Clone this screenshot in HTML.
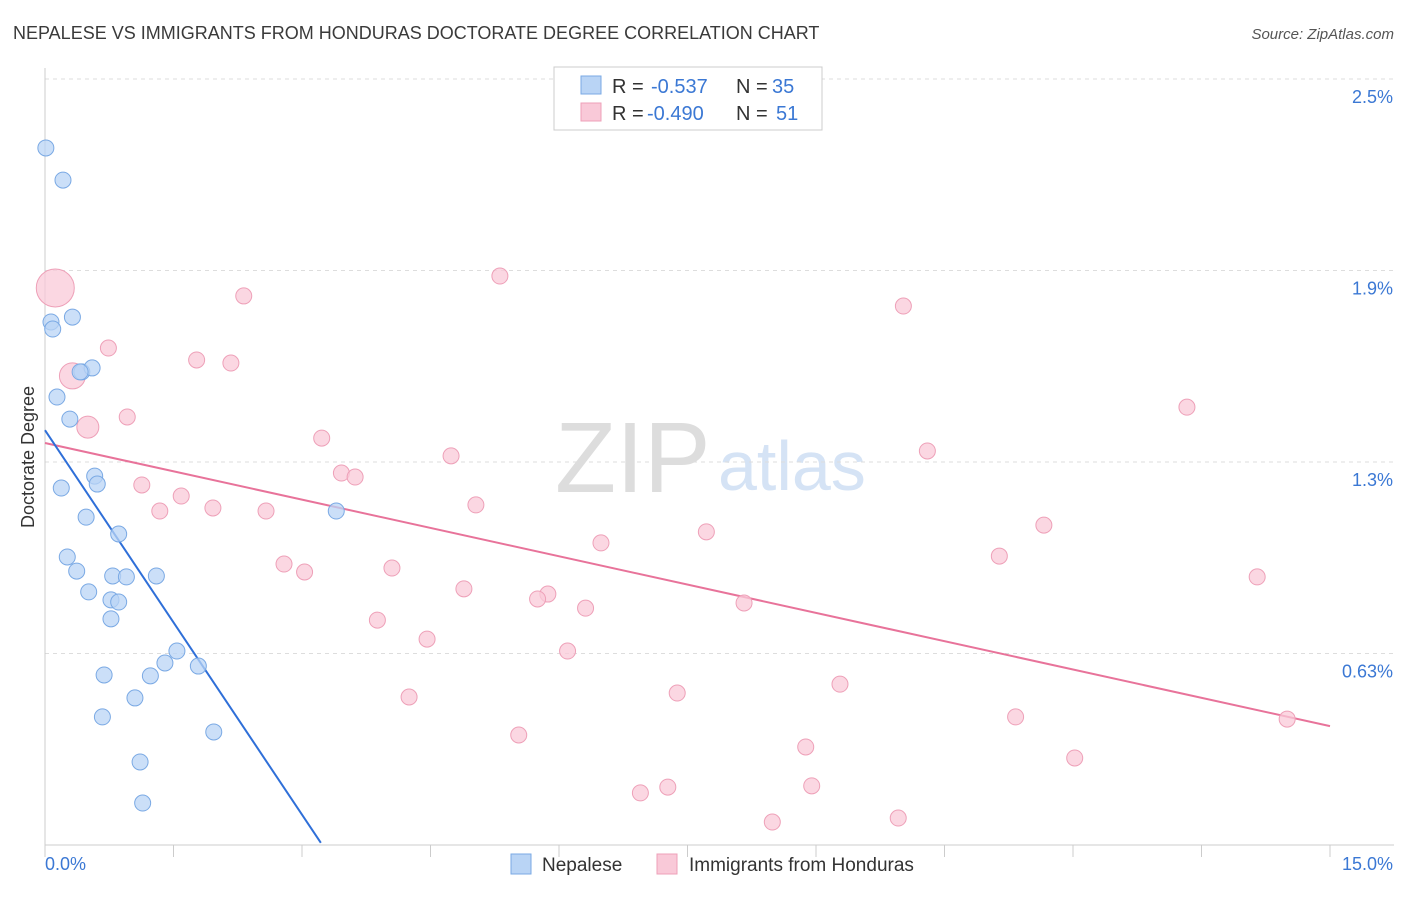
<!DOCTYPE html>
<html><head><meta charset="utf-8"><style>
body{margin:0;background:#fff;font-family:"Liberation Sans",sans-serif;}
svg text{font-family:"Liberation Sans",sans-serif;}
</style></head><body>
<svg id="chart" width="1406" height="892" xmlns="http://www.w3.org/2000/svg">
<text x="13" y="39" font-size="18" fill="#3a3a3a">NEPALESE VS IMMIGRANTS FROM HONDURAS DOCTORATE DEGREE CORRELATION CHART</text>
<text x="1394" y="39" font-size="15" fill="#555" text-anchor="end" font-style="italic">Source: ZipAtlas.com</text>
<g>
<text x="555" y="492" font-size="100" fill="#ddd" font-family="Liberation Serif, serif">ZIP</text>
<text x="718" y="490" font-size="70" fill="#d5e3f5">atlas</text>
</g>
<text transform="translate(34,457) rotate(-90)" font-size="18" fill="#333" text-anchor="middle">Doctorate Degree</text>
<g id="grid"></g><g id="axes"></g><g id="lines"></g><g id="pts"></g>
<g>
<rect x="554" y="67" width="268" height="63" fill="#fff" stroke="#ccc"/>
<rect x="581" y="76" width="20" height="18" fill="#b9d4f5" stroke="#7aa9e4"/>
<rect x="581" y="103" width="20" height="18" fill="#f9c9d8" stroke="#eea0b8"/>
<text x="612" y="93" font-size="20" fill="#333">R =</text>
<text x="651" y="93" font-size="20" fill="#3b78d4">-0.537</text>
<text x="736" y="93" font-size="20" fill="#333">N =</text>
<text x="772" y="93" font-size="20" fill="#3b78d4">35</text>
<text x="612" y="120" font-size="20" fill="#333">R =</text>
<text x="647" y="120" font-size="20" fill="#3b78d4">-0.490</text>
<text x="736" y="120" font-size="20" fill="#333">N =</text>
<text x="776" y="120" font-size="20" fill="#3b78d4">51</text>
</g>
<g>
<rect x="511" y="854" width="20" height="20" fill="#b9d4f5" stroke="#7aa9e4"/>
<text x="542" y="871" font-size="19" fill="#333">Nepalese</text>
<rect x="657" y="854" width="20" height="20" fill="#f9c9d8" stroke="#eea0b8"/>
<text x="689" y="871" font-size="19" fill="#333">Immigrants from Honduras</text>
</g>
</svg>
<script>
const yTicks=[0.625,1.25,1.875,2.5];
const yTickLabels=["0.63%","1.3%","1.9%","2.5%"];
const xTickLabels=["0.0%","15.0%"];
const blueX=[0.01,0.21,0.07,0.09,0.32,0.43,0.55,0.14,0.29,0.58,0.61,0.19,0.48,0.86,0.26,0.37,0.79,0.95,1.30,0.51,0.77,0.86,0.77,1.54,1.40,1.79,0.69,1.23,1.05,0.67,1.97,1.11,1.14,3.40,0.41];
const blueY=[2.275,2.17,1.707,1.684,1.723,1.544,1.557,1.462,1.39,1.204,1.178,1.165,1.070,1.015,0.940,0.894,0.878,0.875,0.878,0.826,0.800,0.793,0.738,0.633,0.594,0.584,0.555,0.552,0.480,0.418,0.369,0.271,0.137,1.090,1.544];
const pinkX=[0.12,0.32,0.50,5.31,2.32,10.02,0.74,1.77,2.17,0.96,13.33,3.23,4.74,10.30,3.46,3.62,1.13,1.59,5.03,1.34,1.96,2.58,11.66,7.72,6.49,11.14,2.79,3.03,4.05,14.15,4.89,5.87,5.75,8.16,6.31,3.88,4.46,6.10,9.28,4.25,7.38,11.33,14.50,5.53,8.88,12.02,7.27,6.95,8.95,8.49,9.96];
const pinkY=[1.818,1.531,1.364,1.857,1.792,1.759,1.622,1.583,1.573,1.397,1.429,1.328,1.270,1.286,1.214,1.201,1.175,1.139,1.110,1.090,1.100,1.090,1.044,1.022,0.986,0.943,0.917,0.891,0.904,0.875,0.836,0.819,0.803,0.790,0.773,0.734,0.672,0.633,0.525,0.483,0.496,0.418,0.411,0.359,0.320,0.284,0.189,0.170,0.193,0.075,0.088];
const pinkR=[19,13,11];
const blueTrend=[1.354,0.007];const blueTrendX=[0,3.22];
const pinkTrend=[1.312,0.388];const pinkTrendX=[0,15];
const X0=45,X1=1330,Y0=845,YT=79;
const sx=v=>X0+v/15*(X1-X0);
const sy=v=>Y0-v/2.5*(Y0-YT);
const NS="http://www.w3.org/2000/svg";
function mk(p,t,a){const e=document.createElementNS(NS,t);for(const k in a)e.setAttribute(k,a[k]);document.getElementById(p).appendChild(e);return e;}
yTicks.forEach((v,i)=>{
 const l=mk('grid','line',{x1:X0,x2:1394,y1:sy(v),y2:sy(v),stroke:'#ddd','stroke-dasharray':'4,4'});
 
 
 const t=mk('grid','text',{x:1393,y:sy(v)+24,'font-size':18,fill:'#3b78d4','text-anchor':'end'});
 t.textContent=yTickLabels[i];
 
 
});
let ax=mk('axes','line',{x1:X0,x2:X0,y1:68,y2:Y0,stroke:'#ccc'});


ax=mk('axes','line',{x1:X0,x2:1394,y1:Y0,y2:Y0,stroke:'#ccc'});


for(let k=0;k<=10;k++){
 const tk=mk('axes','line',{x1:sx(k*1.5),x2:sx(k*1.5),y1:Y0,y2:Y0+12,stroke:'#ccc'});
 
 
}
let xl=mk('axes','text',{x:45,y:870,'font-size':18,fill:'#3b78d4'});xl.textContent=xTickLabels[0];


xl=mk('axes','text',{x:1393,y:870,'font-size':18,fill:'#3b78d4','text-anchor':'end'});xl.textContent=xTickLabels[1];


pinkX.forEach((x,i)=>{
 const c=mk('pts','circle',{cx:sx(x),cy:sy(pinkY[i]),r:pinkR[i]||8,fill:'#f9c9d8','fill-opacity':0.75,stroke:'#eea0b8'});
 
 
});
blueX.forEach((x,i)=>{
 const c=mk('pts','circle',{cx:sx(x),cy:sy(blueY[i]),r:8,fill:'#b9d4f5','fill-opacity':0.75,stroke:'#7aa9e4'});
 
 
});
let tl=mk('lines','line',{x1:sx(pinkTrendX[0]),y1:sy(pinkTrend[0]),x2:sx(pinkTrendX[1]),y2:sy(pinkTrend[1]),stroke:'#e8739a','stroke-width':2});


tl=mk('lines','line',{x1:sx(blueTrendX[0]),y1:sy(blueTrend[0]),x2:sx(blueTrendX[1]),y2:sy(blueTrend[1]),stroke:'#2f6fd8','stroke-width':2});


</script>
</body></html>
